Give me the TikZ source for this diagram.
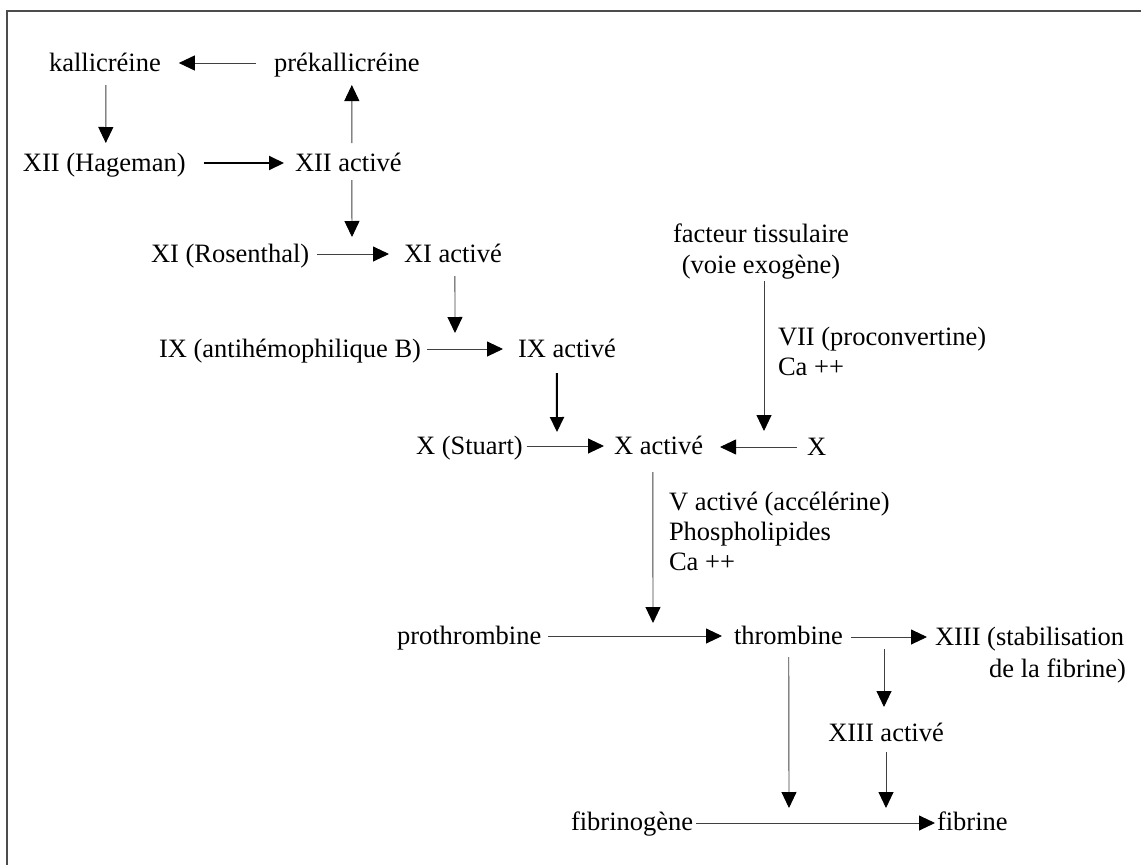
\documentclass[tikz,border=0pt]{standalone}
\usepackage{fontspec}
\setmainfont{Liberation Serif}
\usetikzlibrary{arrows.meta}
\begin{document}
\begin{tikzpicture}[x=1pt,y=-1pt,
  lbl/.style={inner sep=0pt, outer sep=0pt, font=\fontsize{26.5}{31}\selectfont, anchor=base west},
  arr/.style={-{Triangle[length=16pt,width=15pt,color=black]}, line width=0.9pt, draw=black!75},
  boldarr/.style={-{Triangle[length=15pt,width=14pt,color=black]}, line width=2pt, draw=black},
  frame/.style={line width=1.5pt, draw=black!70}]
\useasboundingbox (0,0) rectangle (1141,865);
\draw[frame] (7,865) -- (7,11) -- (1141,11);

\node[lbl] (kall) at (49,71) {kallicréine};
\node[lbl] (prek) at (274,71) {prékallicréine};
\node[lbl] (xii) at (23,171) {XII (Hageman)};
\node[lbl] (xiia) at (295,171) {XII activé};
\node[lbl] (xi) at (151,262) {XI (Rosenthal)};
\node[lbl] (xia) at (404,262) {XI activé};
\node[lbl] (ix) at (159,357) {IX (antihémophilique B)};
\node[lbl] (ixa) at (518,357) {IX activé};
\node[lbl] (xs) at (416,454) {X (Stuart)};
\node[lbl] (xa) at (614,454) {X activé};
\node[lbl] (xx) at (807,455) {X};
\node[lbl,anchor=base] (fact1) at (761,242) {facteur tissulaire};
\node[lbl,anchor=base] (fact2) at (761,273) {(voie exogène)};
\node[lbl] (vii) at (778,345) {VII (proconvertine)};
\node[lbl] (ca1) at (778,375) {Ca ++};
\node[lbl] (va) at (669,510) {V activé (accélérine)};
\node[lbl] (phos) at (669,540) {Phospholipides};
\node[lbl] (ca2) at (669,570) {Ca ++};
\node[lbl] (proth) at (397,644) {prothrombine};
\node[lbl] (thr) at (734,644) {thrombine};
\node[lbl] (xiii) at (935,645) {XIII (stabilisation};
\node[lbl,anchor=base east] (xiiib) at (1126,677) {de la fibrine)};
\node[lbl,anchor=base] (xiiia) at (886,741) {XIII activé};
\node[lbl] (fibg) at (571,830) {fibrinogène};
\node[lbl] (fib) at (937,830) {fibrine};

\coordinate (m1) at (352,237);
\coordinate (m2) at (455,333);
\coordinate (m3) at (557,432);
\coordinate (m4) at (764,431);
\coordinate (m5) at (653,623);
\coordinate (m6) at (884,649);
\coordinate (m7) at (789,808);
\coordinate (m8) at (886,808);

\draw[arr] ([shift={(-18,-8)}]prek.base west) -- ([shift={(18,-8)}]kall.base east);
\draw[arr] ([shift={(1,14)}]kall.base) -- ([shift={(1.5,-28)}]xii.base);
\draw[boldarr] ([shift={(18,-8)}]xii.base east) -- ([shift={(-11,-8)}]xiia.base west);
\draw[arr] ([shift={(3.5,-28)}]xiia.base) -- ([shift={(5,14)}]prek.base);
\draw[arr] ([shift={(3.5,9)}]xiia.base) -- (m1);
\draw[arr] ([shift={(8,-8)}]xi.base east) -- ([shift={(-15,-8)}]xia.base west);
\draw[arr] ([shift={(2,14)}]xia.base) -- (m2);
\draw[arr] ([shift={(6,-8)}]ix.base east) -- ([shift={(-15,-8)}]ixa.base west);
\draw[boldarr] ([shift={(-10,16)}]ixa.base) -- (m3);
\draw[arr] ([shift={(4,-8)}]xs.base east) -- ([shift={(-10,-8)}]xa.base west);
\draw[arr] ([shift={(-10,-8)}]xx.base west) -- ([shift={(17,-7)}]xa.base east);
\draw[arr] ([shift={(3,8)}]fact2.base) -- (m4);
\draw[arr] ([shift={(-5.7,18)}]xa.base) -- (m5);
\draw[arr] ([shift={(7,-8)}]proth.base east) -- ([shift={(-12,-8)}]thr.base west);
\draw[arr] ([shift={(8,-7)}]thr.base east) -- ([shift={(-8,-8)}]xiii.base west);
\draw[arr] (m6) -- ([shift={(-2,-34)}]xiiia.base);
\draw[arr] ([shift={(0.3,13)}]thr.base) -- (m7);
\draw[arr] ([shift={(0,11)}]xiiia.base) -- (m8);
\draw[arr] ([shift={(3,-7)}]fibg.base east) -- ([shift={(-2,-7)}]fib.base west);
\end{tikzpicture}
\end{document}
